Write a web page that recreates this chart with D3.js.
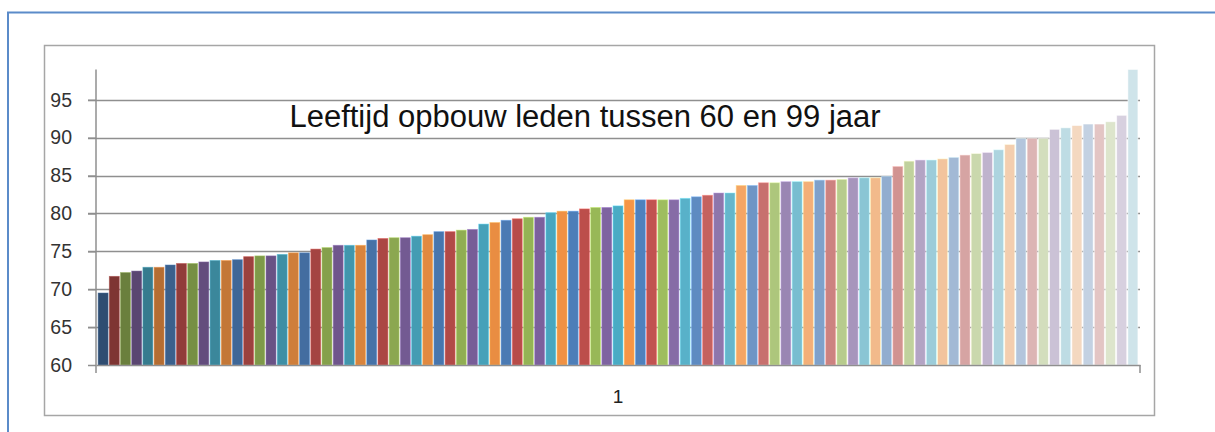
<!DOCTYPE html>
<html lang="nl">
<head>
<meta charset="UTF-8">
<title>Leeftijd opbouw leden</title>
<script src="https://cdn.jsdelivr.net/npm/d3@7"></script>
<style>
  body { margin: 0; background: #fff; }
  text { font-family: "Liberation Sans", Arial, sans-serif; }
</style>
</head>
<body>
<script>

var width = 1215,
    height = 432

// one category, 93 series (each member is its own series, sorted by age)
var categories = ["1"]
var ages = [
  69.5, 71.7, 72.2, 72.4, 72.9, 72.9, 73.2, 73.4, 73.4, 73.6,
  73.8, 73.8, 73.9, 74.3, 74.4, 74.4, 74.6, 74.8, 74.8, 75.3,
  75.5, 75.8, 75.8, 75.8, 76.5, 76.7, 76.8, 76.8, 77.0, 77.2,
  77.6, 77.6, 77.8, 77.9, 78.6, 78.8, 79.1, 79.3, 79.5, 79.5,
  80.1, 80.3, 80.3, 80.6, 80.8, 80.8, 81.0, 81.8, 81.8, 81.8,
  81.8, 81.8, 82.0, 82.2, 82.4, 82.7, 82.7, 83.7, 83.7, 84.05,
  84.05, 84.2, 84.2, 84.2, 84.4, 84.4, 84.5, 84.7, 84.7, 84.7,
  84.9, 86.2, 86.9, 87.05, 87.05, 87.2, 87.4, 87.7, 87.9, 88.05,
  88.4, 89.1, 89.9, 89.9, 89.9, 91.1, 91.3, 91.6, 91.8, 91.8,
  92.1, 92.95, 99
]
var yTicks = [60, 65, 70, 75, 80, 85, 90, 95]
var title = "Leeftijd opbouw leden tussen 60 en 99 jaar"

// office accent colours: blue, red, green, purple, aqua, orange
var accents = ["#4F81BD", "#C0504D", "#9BBB59", "#8064A2", "#4BACC6", "#F79646"]

function hueOf(i) {
  if (i < 53) return i % 6
  if (i < 58) return [0, 1, 3, 4, 5][i - 53]
  return (i - 58) % 6
}

function barColor(i) {
  var c = d3.rgb(accents[hueOf(i)])
  if (i <= 48) {
    var f = 0.6 + 0.4 * Math.sqrt(i / 48)
    return d3.rgb(c.r * f, c.g * f, c.b * f)
  }
  // lighter tints, slightly greyed
  var t = 0.7 * (i - 48) / 44
  var g = (c.r + c.g + c.b) / 3
  var m = 0.25 * (i - 48) / 44
  var r = c.r + (g - c.r) * m, gg = c.g + (g - c.g) * m, b = c.b + (g - c.b) * m
  return d3.rgb(r + (255 - r) * t, gg + (255 - gg) * t, b + (255 - b) * t)
}

var svg = d3.select("body").append("svg")
    .attr("width", width)
    .attr("height", height)

// outer frame (blue) and chart area border (grey)
svg.append("path")
    .attr("d", "M8," + height + "V12.5H" + width)
    .attr("fill", "none")
    .attr("stroke", "#5B8BC9")
    .attr("stroke-width", 2)

svg.append("rect")
    .attr("x", 44.5).attr("y", 45.5)
    .attr("width", 1110).attr("height", 370)
    .attr("fill", "none")
    .attr("stroke", "#a6a6a6")
    .attr("stroke-width", 1.5)

var plot = { left: 96, right: 1140, top: 69.5, bottom: 365 }

var y = d3.scaleLinear()
    .domain([60, 99])
    .range([plot.bottom, plot.top])

var xCat = d3.scaleBand()
    .domain(categories)
    .range([plot.left, plot.right])

var x = d3.scaleBand()
    .domain(d3.range(ages.length))
    .range([plot.left + 1, plot.right - 1])
    .paddingInner(0.11)
    .paddingOuter(0.1)

// gridlines
svg.append("g")
    .selectAll("line")
    .data(yTicks.slice(1))
    .enter().append("line")
    .attr("x1", plot.left - 8)
    .attr("x2", plot.right)
    .attr("y1", function(d) { return Math.round(y(d)) + 0.5 })
    .attr("y2", function(d) { return Math.round(y(d)) + 0.5 })
    .attr("stroke", "#8f8f8f")
    .attr("stroke-width", 1.5)

// bars
svg.append("g")
    .selectAll("rect")
    .data(ages)
    .enter().append("rect")
    .attr("x", function(d, i) { return x(i) })
    .attr("width", x.bandwidth())
    .attr("y", function(d) { return y(d) })
    .attr("height", function(d) { return y(60) - y(d) })
    .attr("fill", function(d, i) { return barColor(i) })
    .attr("stroke", function(d, i) { return d3.rgb(barColor(i)).brighter(0.8) })
    .attr("stroke-opacity", 0.6)
    .attr("stroke-width", 0.8)

// y axis
var yAxis = svg.append("g")
    .attr("transform", "translate(" + plot.left + ",0)")
    .call(d3.axisLeft(y).tickValues(yTicks).tickSize(8).tickSizeOuter(0).tickPadding(16))

yAxis.select(".domain").remove()
yAxis.selectAll(".tick line").attr("stroke", "#8f8f8f").attr("stroke-width", 1.5)
yAxis.selectAll(".tick text")
    .attr("fill", "#333")
    .style("font-size", "19.5px")

svg.append("line")
    .attr("x1", plot.left).attr("x2", plot.left)
    .attr("y1", plot.top).attr("y2", plot.bottom + 8)
    .attr("stroke", "#8f8f8f")
    .attr("stroke-width", 1.5)

// x axis (single category)
var xAxis = svg.append("g")
    .attr("transform", "translate(0," + plot.bottom + ")")
    .call(d3.axisBottom(xCat).tickSize(0).tickSizeOuter(0).tickPadding(25))

xAxis.select(".domain").attr("stroke", "#8f8f8f").attr("stroke-width", 1.5)
xAxis.selectAll(".tick text")
    .attr("fill", "#222")
    .style("font-size", "19px")

svg.append("line")
    .attr("x1", plot.right).attr("x2", plot.right)
    .attr("y1", plot.bottom).attr("y2", plot.bottom + 8)
    .attr("stroke", "#8f8f8f")
    .attr("stroke-width", 1.5)

// title inside the plot
svg.append("text")
    .attr("x", 585)
    .attr("y", 127)
    .attr("text-anchor", "middle")
    .style("font-size", "31px")
    .attr("fill", "#111")
    .text(title)

</script>
</body>
</html>
